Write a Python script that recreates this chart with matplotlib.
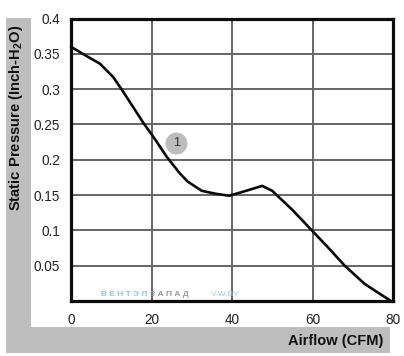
import matplotlib
matplotlib.use("Agg")
import matplotlib.pyplot as plt
from matplotlib.patches import Rectangle

airflow = [0, 3.5, 7.2, 10.5, 13, 15.5, 18, 21, 23.8, 27, 29, 32.5, 35.8, 39.3, 43.5, 47.5, 50, 55, 60, 64, 68, 73, 76.5, 79.5]
pressure = [0.36, 0.348, 0.336, 0.317, 0.296, 0.274, 0.252, 0.228, 0.204, 0.181, 0.169, 0.156, 0.152, 0.149, 0.156, 0.163, 0.156, 0.129, 0.099, 0.075, 0.05, 0.024, 0.011, 0.0]
xticks = [0, 20, 40, 60, 80]
yticks = [0.05, 0.1, 0.15, 0.2, 0.25, 0.3, 0.35, 0.4]
ylabels = ["0.05", "0.1", "0.15", "0.2", "0.25", "0.3", "0.35", "0.4"]

W = 404
H = 356
BAND = "#bebebe"
GRID = "#666666"
FRAME = "#0c0c0c"

plt.rcParams["font.family"] = ["Liberation Sans", "DejaVu Sans"]
plt.rcParams["mathtext.fontset"] = "custom"
plt.rcParams["mathtext.bf"] = "Liberation Sans:bold"
plt.rcParams["mathtext.rm"] = "Liberation Sans"

fig = plt.figure(figsize=(W / 100, H / 100), dpi=100, facecolor="white")

# grey L-shaped band behind the axis titles
fig.add_artist(Rectangle((6 / W, 1 - 353 / H), 25 / W, 335 / H, transform=fig.transFigure, color=BAND, lw=0))
fig.add_artist(Rectangle((6 / W, 1 - 353 / H), 384 / W, 26 / H, transform=fig.transFigure, color=BAND, lw=0))

ax = fig.add_axes([71 / W, 1 - 301 / H, 322 / W, 282.5 / H])
ax.set_xlim(0, 80)
ax.set_ylim(0, 0.4)
ax.set_xticks(xticks)
ax.set_yticks(yticks)
ax.set_yticklabels(ylabels)
ax.grid(True, color=GRID, lw=1.4)
ax.set_axisbelow(True)
ax.tick_params(length=0, labelsize=9.8, labelcolor="#222222")
ax.tick_params(axis="x", pad=9)
ax.tick_params(axis="y", pad=8)
for s in ax.spines.values():
    s.set_linewidth(2.3)
    s.set_color(FRAME)

ax.plot(airflow, pressure, color="#0a0a0a", lw=1.9, clip_on=False, solid_capstyle="round")

# curve number badge
ax.scatter([26.2], [0.2235], s=250, color="#bdbdbd", linewidths=0, zorder=3)
ax.text(26.2, 0.2235, "1", fontsize=9, color="#333333", ha="center", va="center", zorder=4)

# watermark
ax.text(7.4, 0.0085, "В Е Н Т Э Л", fontsize=6, fontweight="bold", color="#8cc6ee", va="center", zorder=1.5)
ax.text(19.6, 0.0085, "З А П А Д", fontsize=6, fontweight="bold", color="#9a9a9a", va="center", zorder=1.5)
ax.text(34.7, 0.0085, "V-W.BY", fontsize=6, color="#a3c8e4", va="center", zorder=1.5)

fig.text(16.5 / W, 1 - 118 / H, r"Static Pressure (Inch-H$\mathbf{_2}$O)", rotation=90, fontsize=10.6,
         fontweight="bold", color="#111111", ha="center", va="center")
fig.text(383 / W, 1 - 341.5 / H, "Airflow (CFM)", fontsize=10.5, fontweight="bold", color="#111111",
         ha="right", va="center")

fig.savefig("out.png", dpi=100)
